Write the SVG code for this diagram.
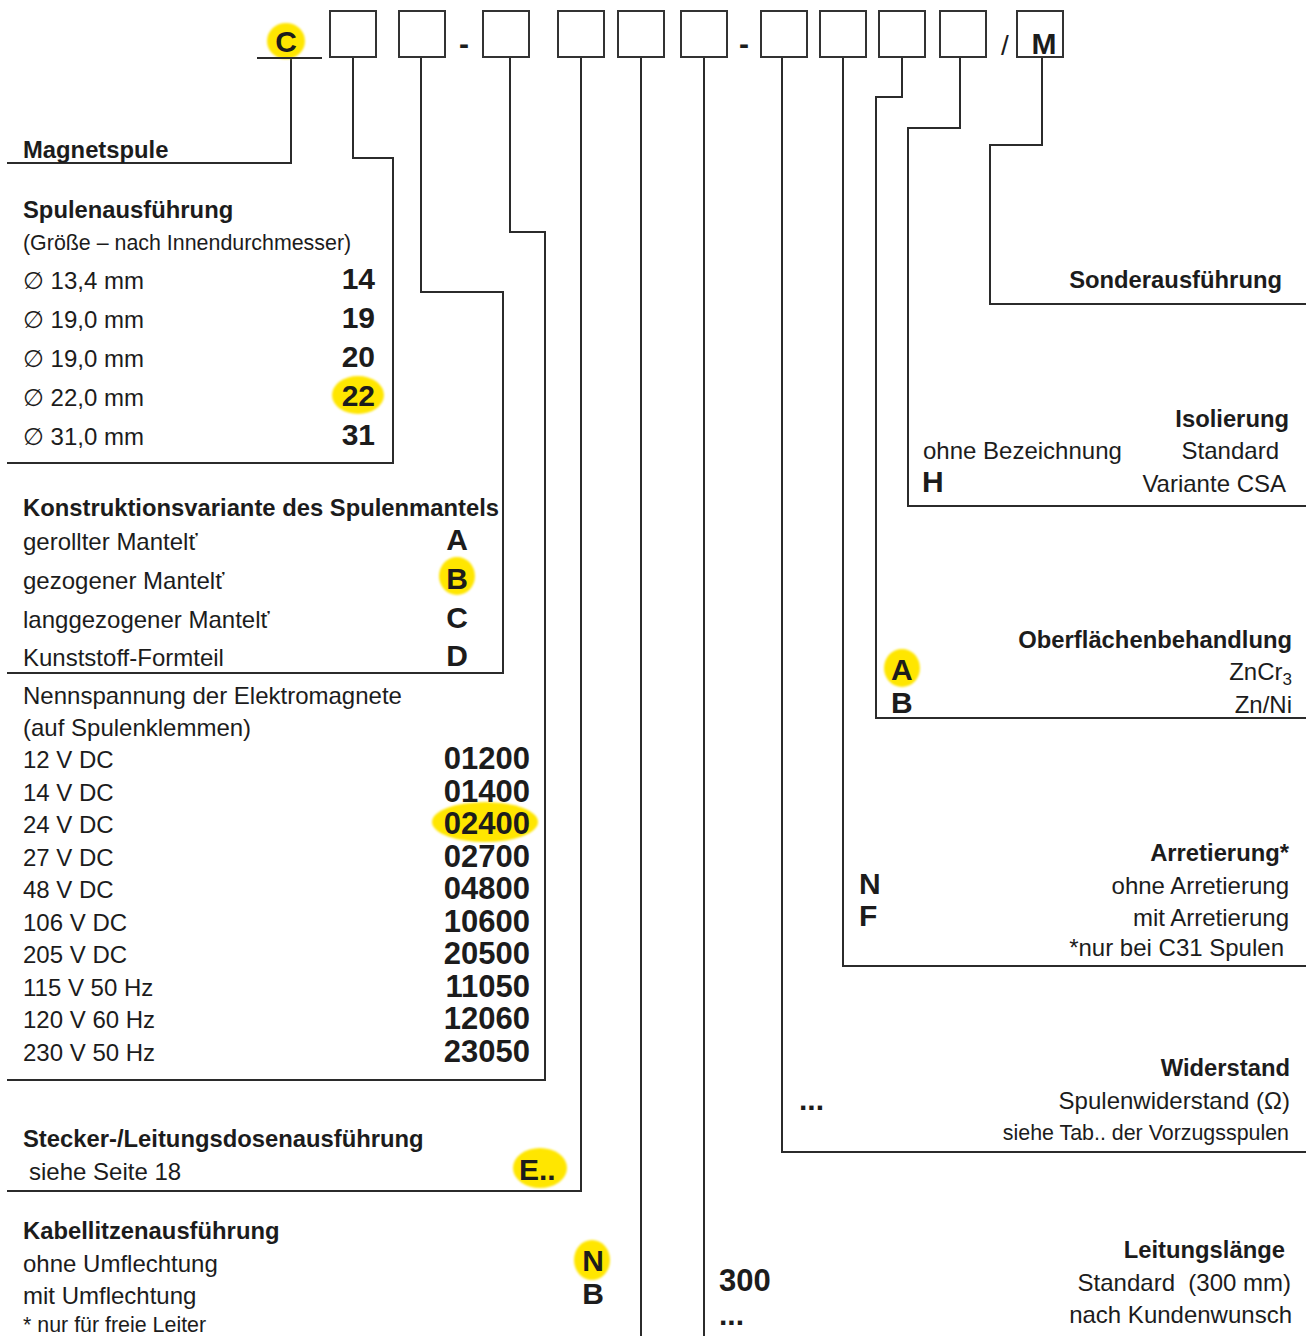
<svg xmlns="http://www.w3.org/2000/svg" width="1314" height="1336" viewBox="0 0 1314 1336">
<defs>
<filter id="soft" x="-20%" y="-20%" width="140%" height="140%"><feGaussianBlur stdDeviation="1.2"/></filter>
<style>
text{font-family:"Liberation Sans",Arial,"DejaVu Sans",sans-serif;fill:#1c1c1c;font-size:24px}
.h{font-weight:bold;font-size:23.8px}
.c{font-weight:bold;font-size:30px}
.n{font-weight:bold;font-size:31px}
.s{font-size:21.4px}
.e{text-anchor:end}
.ln{fill:none;stroke:#2b2b2b;stroke-width:2}
.box{fill:#fff;stroke:#333;stroke-width:2}
.hl{fill:#ffe600;filter:url(#soft)}
</style>
</defs>
<rect width="1314" height="1336" fill="#fff"/>

<g id="connectors" class="ln">
<path d="M291,59 V163 H7"/>
<path d="M353,57 V158 H393 V463 H7"/>
<path d="M421,57 V292 H503 V673 H7"/>
<path d="M510,57 V232 H545 V1080 H7"/>
<path d="M581,57 V1191 H7"/>
<path d="M641,57 V1336"/>
<path d="M704,57 V1336"/>
<path d="M782,57 V1152 H1306"/>
<path d="M843,57 V966 H1306"/>
<path d="M902,57 V97 H876 V718 H1306"/>
<path d="M960,57 V128 H908 V506 H1306"/>
<path d="M1042,57 V145 H990 V304 H1306"/>
</g>

<g id="code">
<ellipse class="hl" cx="286" cy="41" rx="19" ry="18"/>
<line x1="257" y1="58" x2="322" y2="58" stroke="#2b2b2b" stroke-width="2"/>
<text class="c" x="286" y="52" text-anchor="middle">C</text>
<rect class="box" x="330" y="11" width="46" height="46"/>
<rect class="box" x="399" y="11" width="46" height="46"/>
<text class="c" x="464" y="54" text-anchor="middle">-</text>
<rect class="box" x="483" y="11" width="46" height="46"/>
<rect class="box" x="558" y="11" width="46" height="46"/>
<rect class="box" x="618" y="11" width="46" height="46"/>
<rect class="box" x="681" y="11" width="46" height="46"/>
<text class="c" x="744" y="54" text-anchor="middle">-</text>
<rect class="box" x="761" y="11" width="46" height="46"/>
<rect class="box" x="820" y="11" width="46" height="46"/>
<rect class="box" x="879" y="11" width="46" height="46"/>
<rect class="box" x="940" y="11" width="46" height="46"/>
<text x="1005" y="55" text-anchor="middle" style="font-size:28px">/</text>
<rect class="box" x="1017" y="11" width="46" height="46"/>
<text class="c" x="1044" y="54" text-anchor="middle">M</text>
</g>

<g id="magnetspule">
<text class="h" x="23" y="158">Magnetspule</text>
</g>

<g id="spulenausfuehrung">
<text class="h" x="23" y="218">Spulenausführung</text>
<text class="s" x="23" y="250">(Größe – nach Innendurchmesser)</text>
<text x="23" y="289">∅ 13,4 mm</text>
<text x="23" y="328">∅ 19,0 mm</text>
<text x="23" y="367">∅ 19,0 mm</text>
<text x="23" y="406">∅ 22,0 mm</text>
<text x="23" y="445">∅ 31,0 mm</text>
<ellipse class="hl" cx="358" cy="395" rx="26" ry="19"/>
<text class="c e" x="375" y="289">14</text>
<text class="c e" x="375" y="328">19</text>
<text class="c e" x="375" y="367">20</text>
<text class="c e" x="375" y="406">22</text>
<text class="c e" x="375" y="445">31</text>
</g>

<g id="konstruktionsvariante">
<text class="h" x="23" y="516">Konstruktionsvariante des Spulenmantels</text>
<text x="23" y="550">gerollter Mantelť</text>
<text x="23" y="589">gezogener Mantelť</text>
<text x="23" y="628">langgezogener Mantelť</text>
<text x="23" y="666">Kunststoff-Formteil</text>
<ellipse class="hl" cx="457" cy="576" rx="18" ry="19"/>
<text class="c" x="457" y="550" text-anchor="middle">A</text>
<text class="c" x="457" y="589" text-anchor="middle">B</text>
<text class="c" x="457" y="628" text-anchor="middle">C</text>
<text class="c" x="457" y="666" text-anchor="middle">D</text>
</g>

<g id="nennspannung">
<text x="23" y="704">Nennspannung der Elektromagnete</text>
<text x="23" y="736">(auf Spulenklemmen)</text>
<text x="23" y="768">12 V DC</text>
<text x="23" y="801">14 V DC</text>
<text x="23" y="833">24 V DC</text>
<text x="23" y="866">27 V DC</text>
<text x="23" y="898">48 V DC</text>
<text x="23" y="931">106 V DC</text>
<text x="23" y="963">205 V DC</text>
<text x="23" y="996">115 V 50 Hz</text>
<text x="23" y="1028">120 V 60 Hz</text>
<text x="23" y="1061">230 V 50 Hz</text>
<ellipse class="hl" cx="485" cy="822" rx="53" ry="20"/>
<text class="n e" x="530" y="769">01200</text>
<text class="n e" x="530" y="802">01400</text>
<text class="n e" x="530" y="834">02400</text>
<text class="n e" x="530" y="867">02700</text>
<text class="n e" x="530" y="899">04800</text>
<text class="n e" x="530" y="932">10600</text>
<text class="n e" x="530" y="964">20500</text>
<text class="n e" x="530" y="997">11050</text>
<text class="n e" x="530" y="1029">12060</text>
<text class="n e" x="530" y="1062">23050</text>
</g>

<g id="stecker">
<text class="h" x="23" y="1147">Stecker-/Leitungsdosenausführung</text>
<text x="29" y="1180">siehe Seite 18</text>
<ellipse class="hl" cx="540" cy="1168" rx="27" ry="20"/>
<text class="c" x="519" y="1180">E..</text>
</g>

<g id="kabellitzen">
<text class="h" x="23" y="1239">Kabellitzenausführung</text>
<text x="23" y="1272">ohne Umflechtung</text>
<text x="23" y="1304">mit Umflechtung</text>
<text class="s" x="23" y="1332">* nur für freie Leiter</text>
<ellipse class="hl" cx="592" cy="1260" rx="18" ry="20"/>
<text class="c" x="593" y="1271" text-anchor="middle">N</text>
<text class="c" x="593" y="1304" text-anchor="middle">B</text>
</g>

<g id="leitungslaenge">
<text class="h e" x="1285" y="1258">Leitungslänge</text>
<text class="n" x="719" y="1291">300</text>
<text class="e" x="1291" y="1291">Standard&#160; (300 mm)</text>
<text class="c" x="719" y="1325">...</text>
<text class="e" x="1292" y="1323">nach Kundenwunsch</text>
</g>

<g id="widerstand">
<text class="h e" x="1290" y="1076">Widerstand</text>
<text class="c" x="799" y="1110">...</text>
<text class="e" x="1290" y="1109">Spulenwiderstand (Ω)</text>
<text class="s e" x="1289" y="1140">siehe Tab.. der Vorzugsspulen</text>
</g>

<g id="arretierung">
<text class="h e" x="1289" y="861">Arretierung*</text>
<text class="c" x="859" y="894">N</text>
<text class="e" x="1289" y="894">ohne Arretierung</text>
<text class="c" x="859" y="926">F</text>
<text class="e" x="1289" y="926">mit Arretierung</text>
<text class="e" x="1284" y="956">*nur bei C31 Spulen</text>
</g>

<g id="oberflaeche">
<text class="h e" x="1292" y="648">Oberflächenbehandlung</text>
<ellipse class="hl" cx="902" cy="668" rx="18" ry="19"/>
<text class="c" x="891" y="680">A</text>
<text class="e" x="1292" y="680">ZnCr<tspan dy="5" style="font-size:17px">3</tspan></text>
<text class="c" x="891" y="713">B</text>
<text class="e" x="1292" y="713">Zn/Ni</text>
</g>

<g id="isolierung">
<text class="h e" x="1289" y="427">Isolierung</text>
<text x="923" y="459">ohne Bezeichnung</text>
<text class="e" x="1279" y="459">Standard</text>
<text class="c" x="922" y="492">H</text>
<text class="e" x="1286" y="492">Variante CSA</text>
</g>

<g id="sonderausfuehrung">
<text class="h e" x="1282" y="288">Sonderausführung</text>
</g>
</svg>
